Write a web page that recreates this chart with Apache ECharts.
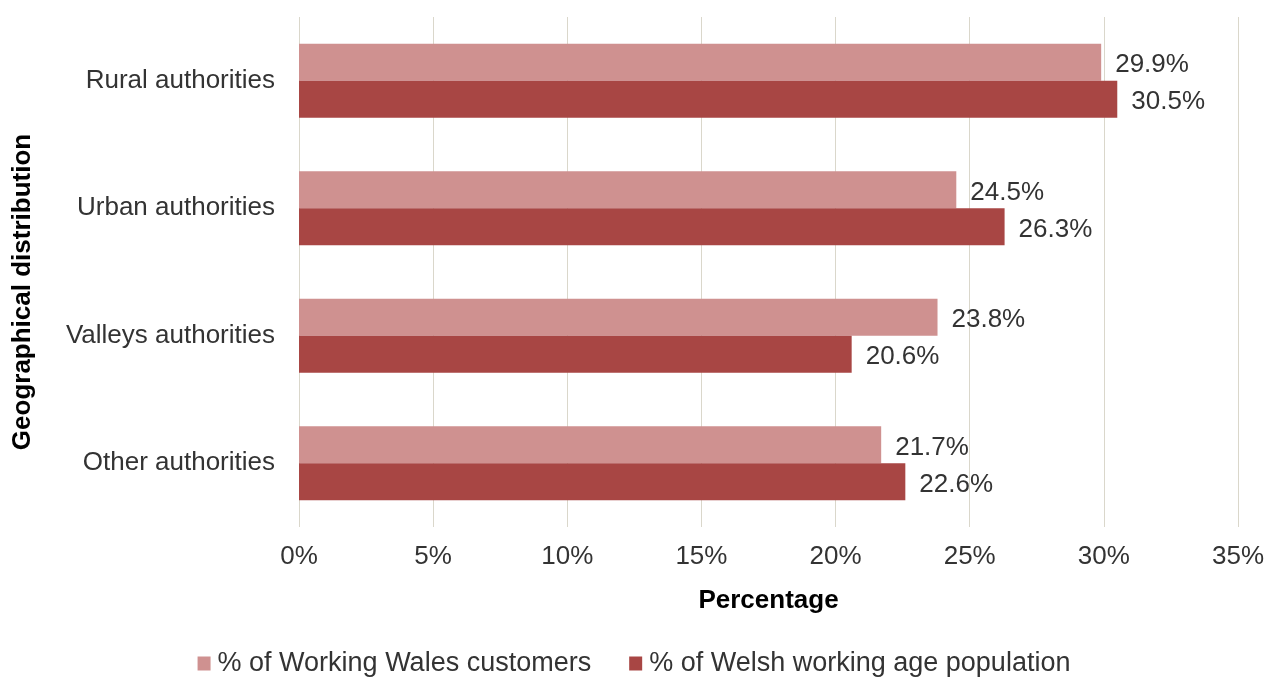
<!DOCTYPE html>
<html>
<head>
<meta charset="utf-8">
<script src="https://cdn.jsdelivr.net/npm/echarts@6/dist/echarts.min.js"></script>
<style>
  html, body { margin: 0; padding: 0; background: #ffffff; }
  #chart { width: 1268px; height: 680px; }
</style>
</head>
<body>
<div id="chart"></div>
<script>
// Categories, top to bottom
const categories = ['Rural authorities', 'Urban authorities', 'Valleys authorities', 'Other authorities'];
// Share of Working Wales customers (%)
const customers = [29.9, 24.5, 23.8, 21.7];
// Share of Welsh working age population (%)
const population = [30.5, 26.3, 20.6, 22.6];
const seriesNames = ['% of Working Wales customers', '% of Welsh working age population'];

const FONT = '"Liberation Sans", Arial, sans-serif';
const FS = 26;
const chart = echarts.init(document.getElementById('chart'));

function labelFmt(p) { return p.value.toFixed(1) + '%'; }

chart.setOption({
  animation: false,
  textStyle: { fontFamily: FONT },
  grid: { left: 299, right: 30, top: 17, bottom: 153, containLabel: false },
  legend: {
    top: 645,
    left: 'center',
    itemWidth: 13,
    itemHeight: 14,
    itemGap: 38,
    itemStyle: { borderWidth: 0 },
    icon: 'rect',
    textStyle: { fontFamily: FONT, fontSize: 27, color: '#333333', padding: [0, 0, 0, 2] },
    data: seriesNames
  },
  xAxis: {
    type: 'value',
    min: 0,
    max: 35,
    interval: 5,
    name: 'Percentage',
    nameLocation: 'middle',
    nameGap: 61,
    nameTextStyle: { fontFamily: FONT, fontSize: FS, fontWeight: 'bold', color: '#000000' },
    axisLine: { show: false },
    axisTick: { show: false },
    axisLabel: { formatter: '{value}%', fontFamily: FONT, fontSize: FS, color: '#333333', margin: 17 },
    splitLine: { show: true, lineStyle: { color: '#DAD7CB', width: 1 } }
  },
  yAxis: {
    type: 'category',
    inverse: true,
    data: categories,
    name: 'Geographical distribution',
    nameLocation: 'middle',
    nameGap: 263,
    nameRotate: 90,
    nameTextStyle: { fontFamily: FONT, fontSize: FS, fontWeight: 'bold', color: '#000000', padding: [0, 40, 0, 0] },
    axisLine: { show: false },
    axisTick: { show: false },
    axisLabel: { fontFamily: FONT, fontSize: FS, color: '#333333', margin: 24 }
  },
  series: [
    {
      name: seriesNames[0],
      type: 'bar',
      data: customers,
      barGap: '0%',
      barCategoryGap: '42%',
      itemStyle: { color: '#CF9190' },
      label: { show: true, position: 'right', distance: 14, offset: [0, 3], formatter: labelFmt,
               fontFamily: FONT, fontSize: FS, color: '#333333' }
    },
    {
      name: seriesNames[1],
      type: 'bar',
      data: population,
      barGap: '0%',
      barCategoryGap: '42%',
      itemStyle: { color: '#A84644' },
      label: { show: true, position: 'right', distance: 14, offset: [0, 3], formatter: labelFmt,
               fontFamily: FONT, fontSize: FS, color: '#333333' }
    }
  ]
});
</script>
</body>
</html>
